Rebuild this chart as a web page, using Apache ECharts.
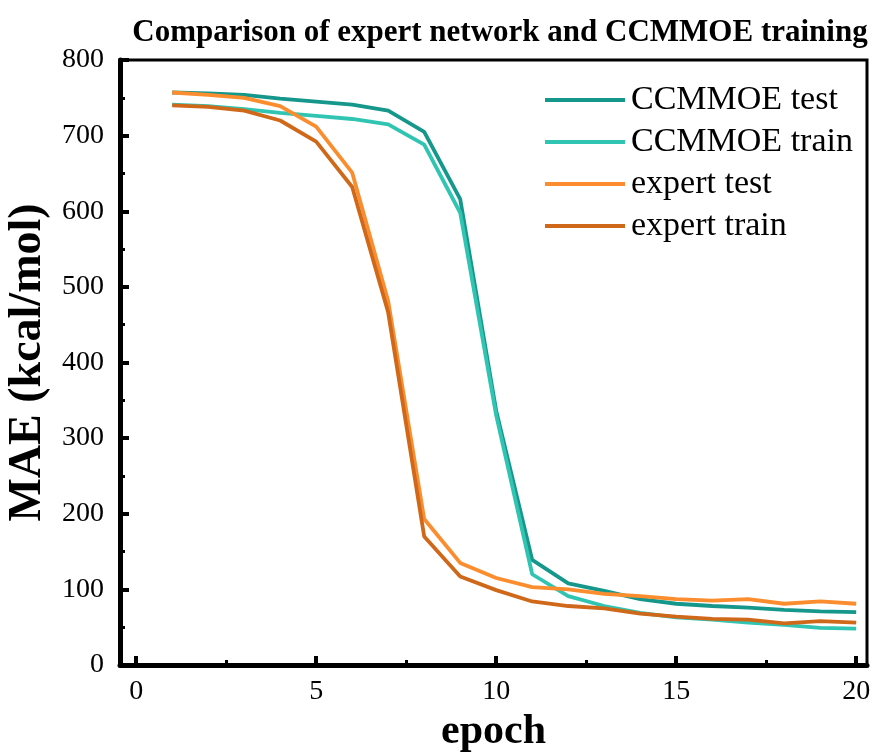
<!DOCTYPE html>
<html>
<head>
<meta charset="utf-8">
<script src="https://cdn.jsdelivr.net/npm/echarts@6/dist/echarts.min.js"></script>
<style>html,body{margin:0;padding:0;background:#fff}#c{width:878px;height:753px}</style>
</head>
<body>
<div id="c"></div>
<script>
var epochs = [1,2,3,4,5,6,7,8,9,10,11,12,13,14,15,16,17,18,19,20];
var ccmmoeTest  = [757,756,754,749,745,741,733,705,616,336,139,108,98,87,81,78,76,73,71,70];
var ccmmoeTrain = [741,739,735,730,726,722,715,688,598,330,120,91,78,69,63,60,56,53,49,48];
var expertTest  = [757,754,750,739,712,651,481,193,135,115,103,100,94,91,87,85,87,81,84,81];
var expertTrain = [740,738,733,720,692,632,466,170,117,99,84,78,75,68,64,61,60,55,58,56];
var yTicks = [0,100,200,300,400,500,600,700,800];
var xTicks = [0,5,10,15,20];
var xMinorTicks = [2.5,7.5,12.5,17.5];

function pairs(v){ return epochs.map(function(e,i){ return [e, v[i]]; }); }
var font = '"Liberation Serif", "Times New Roman", serif';
var chart = echarts.init(document.getElementById('c'));
function mk(name, data, color){
  return {name:name, type:'line', data:pairs(data), symbol:'none', smooth:false,
    lineStyle:{color:color, width:3.8}, itemStyle:{color:color}, xAxisIndex:0, yAxisIndex:0};
}
chart.setOption({
  animation:false,
  backgroundColor:'#fff',
  title:{text:'Comparison of expert network and CCMMOE training', left:495, textAlign:'center', top:12,
    textStyle:{fontFamily:font, fontWeight:'bold', fontSize:31, color:'#000'}},
  legend:{orient:'vertical', left:540, top:78, itemWidth:80, itemHeight:4, itemGap:8,
    icon:'rect',
    textStyle:{fontFamily:font, fontSize:34, color:'#000', padding:[0,0,0,1]},
    data:['CCMMOE test','CCMMOE train','expert test','expert train']},
  grid:{left:120, right:11, top:60, bottom:88, show:true, borderColor:'#000', borderWidth:3,
    backgroundColor:'transparent', containLabel:false, outerBoundsMode:'none'},
  xAxis:[{type:'value', min:-0.45, max:20.3, name:'epoch', nameLocation:'middle', nameGap:36,
    nameTextStyle:{fontFamily:font, fontWeight:'bold', fontSize:42, color:'#000'},
    axisLine:{show:true, onZero:false, lineStyle:{color:'#000', width:5}},
    axisTick:{show:true, inside:true, length:9, customValues:xTicks, lineStyle:{color:'#000', width:4}},
    axisLabel:{customValues:xTicks, fontFamily:font, fontSize:28, color:'#000', margin:13},
    splitLine:{show:false}},
   {type:'value', min:-0.45, max:20.3, position:'bottom',
    axisLine:{show:false, onZero:false},
    axisTick:{show:true, inside:true, length:5, customValues:xMinorTicks, lineStyle:{color:'#000', width:3}},
    axisLabel:{show:false}, splitLine:{show:false}}],
  yAxis:{type:'value', min:0, max:800, interval:100, name:'MAE (kcal/mol)', nameLocation:'middle', nameGap:60,
    nameTextStyle:{fontFamily:font, fontWeight:'bold', fontSize:46, color:'#000'},
    axisLine:{show:true, onZero:false, lineStyle:{color:'#000', width:5}},
    axisTick:{show:true, inside:true, length:9, lineStyle:{color:'#000', width:4}},
    minorTick:{show:true, splitNumber:2, length:5, lineStyle:{color:'#000', width:3}},
    axisLabel:{fontFamily:font, fontSize:28, color:'#000', margin:16,
      formatter:function(v){ return yTicks.indexOf(v) >= 0 ? String(v) : ''; }},
    splitLine:{show:false}},
  series:[
    mk('CCMMOE test', ccmmoeTest, '#15978b'),
    mk('CCMMOE train', ccmmoeTrain, '#30c4b2'),
    mk('expert test', expertTest, '#fb8d2e'),
    mk('expert train', expertTrain, '#d0681a')
  ]
});
</script>
</body>
</html>
